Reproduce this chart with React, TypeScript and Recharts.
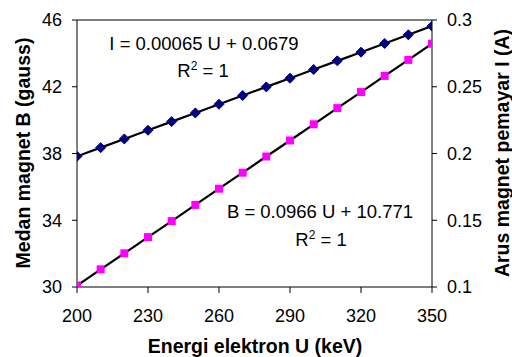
import React from 'react';
import { ComposedChart, Line, XAxis, YAxis, ReferenceLine, Customized } from 'recharts';

const energyU = [200, 210, 220, 230, 240, 250, 260, 270, 280, 290, 300, 310, 320, 330, 340, 350];
const fieldB = [30.09, 31.06, 32.02, 32.99, 33.95, 34.92, 35.89, 36.85, 37.82, 38.78, 39.75, 40.72, 41.68, 42.65, 43.61, 44.58];
const currentI = [0.1979, 0.2044, 0.2109, 0.2174, 0.2239, 0.2304, 0.2369, 0.2434, 0.2499, 0.2564, 0.2629, 0.2694, 0.2759, 0.2824, 0.2889, 0.2954];
const xTicks = [200, 230, 260, 290, 320, 350];
const leftTicks = [30, 34, 38, 42, 46];
const rightTicks = [0.1, 0.15, 0.2, 0.25, 0.3];

const data = energyU.map((u, i) => ({ u, B: fieldB[i], I: currentI[i] }));

const FONT = 'Liberation Sans, Arial, sans-serif';

const Diamond = (props: any) => {
  const { cx, cy } = props;
  if (cx == null || cy == null) return null;
  const r = 5;
  return <path d={`M${cx},${cy - r}L${cx + r},${cy}L${cx},${cy + r}L${cx - r},${cy}Z`} fill="#000080" stroke="#000080" />;
};

const Square = (props: any) => {
  const { cx, cy } = props;
  if (cx == null || cy == null) return null;
  const s = 8;
  return <rect x={cx - s / 2} y={cy - s / 2} width={s} height={s} fill="#FF00FF" />;
};

const Annotations = () => (
  <g fontFamily={FONT} fill="#000">
    <text x={204} y={50} fontSize={18.5} textAnchor="middle">I = 0.00065 U + 0.0679</text>
    <text x={203} y={77} fontSize={18.5} textAnchor="middle">R<tspan dy={-7} fontSize={12}>2</tspan><tspan dy={7}> = 1</tspan></text>
    <text x={320} y={218} fontSize={18.5} textAnchor="middle">B = 0.0966 U + 10.771</text>
    <text x={321} y={246} fontSize={18.5} textAnchor="middle">R<tspan dy={-7} fontSize={12}>2</tspan><tspan dy={7}> = 1</tspan></text>
    <text x={255} y={353} fontSize={19.5} fontWeight="bold" textAnchor="middle">Energi elektron U (keV)</text>
    <text x={0} y={0} fontSize={19.5} fontWeight="bold" textAnchor="middle" transform="translate(30,153) rotate(-90)">Medan magnet B (gauss)</text>
    <text x={0} y={0} fontSize={19.5} fontWeight="bold" textAnchor="middle" transform="translate(509,153) rotate(-90)">Arus magnet pemayar I (A)</text>
  </g>
);

export default function App() {
  const tickStyle = { fontSize: 18, fill: '#000', fontFamily: FONT };
  return (
    <div style={{ position: 'absolute', left: 0, top: 0, background: '#fff' }}>
      <ComposedChart width={512} height={357} data={data} margin={{ top: 20, right: 0, left: 0, bottom: 0 }}>
        <XAxis
          type="number"
          dataKey="u"
          domain={[200, 350]}
          ticks={xTicks}
          tick={tickStyle}
          tickSize={6}
          tickMargin={16}
          stroke="#000"
          height={70}
          allowDataOverflow
        />
        <YAxis
          yAxisId="left"
          domain={[30, 46]}
          ticks={leftTicks}
          tick={tickStyle}
          tickSize={5}
          tickMargin={10}
          stroke="#000"
          width={77}
          allowDataOverflow
        />
        <YAxis
          yAxisId="right"
          orientation="right"
          domain={[0.1, 0.3]}
          ticks={rightTicks}
          tick={tickStyle}
          tickSize={5}
          tickMargin={10}
          stroke="#000"
          width={80}
          allowDataOverflow
        />
        <ReferenceLine yAxisId="left" y={46} stroke="#000" strokeWidth={1} />
        <Line yAxisId="left" dataKey="B" stroke="none" dot={<Square />} isAnimationActive={false} />
        <Line yAxisId="right" dataKey="I" stroke="none" dot={<Diamond />} isAnimationActive={false} />
        <Line yAxisId="left" dataKey="B" stroke="#000" strokeWidth={2.2} dot={false} isAnimationActive={false} />
        <Line yAxisId="right" dataKey="I" stroke="#000" strokeWidth={2.2} dot={false} isAnimationActive={false} />
        <Customized component={Annotations} />
      </ComposedChart>
    </div>
  );
}
